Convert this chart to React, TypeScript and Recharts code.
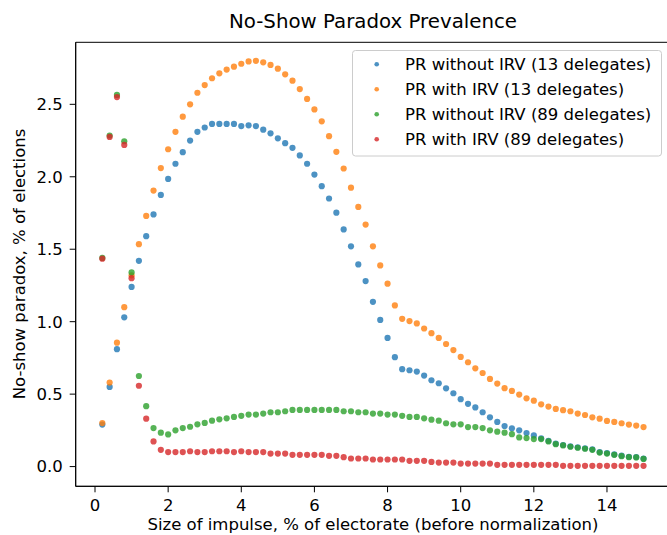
import React from "react";
import { ScatterChart, Scatter, XAxis, YAxis, ReferenceArea } from "recharts";

const xs = [
  0.2, 0.4, 0.6, 0.8, 1.0, 1.2, 1.4, 1.6, 1.8, 2.0, 2.2, 2.4, 2.6, 2.8, 3.0,
  3.2, 3.4, 3.6, 3.8, 4.0, 4.2, 4.4, 4.6, 4.8, 5.0, 5.2, 5.4, 5.6, 5.8, 6.0,
  6.2, 6.4, 6.6, 6.8, 7.0, 7.2, 7.4, 7.6, 7.8, 8.0, 8.2, 8.4, 8.6, 8.8, 9.0,
  9.2, 9.4, 9.6, 9.8, 10.0, 10.2, 10.4, 10.6, 10.8, 11.0, 11.2, 11.4, 11.6, 11.8, 12.0,
  12.2, 12.4, 12.6, 12.8, 13.0, 13.2, 13.4, 13.6, 13.8, 14.0, 14.2, 14.4, 14.6, 14.8, 15.0,
];

const prNoIrv13 = [
  0.29, 0.55, 0.81, 1.03, 1.24, 1.42, 1.59, 1.74, 1.875, 1.985,
  2.09, 2.17, 2.25, 2.31, 2.34, 2.365, 2.365, 2.365, 2.365, 2.35,
  2.355, 2.35, 2.325, 2.3, 2.265, 2.232, 2.2, 2.147, 2.09, 2.015,
  1.935, 1.85, 1.752, 1.637, 1.52, 1.395, 1.28, 1.137, 1.012, 0.888,
  0.755, 0.672, 0.665, 0.656, 0.628, 0.596, 0.575, 0.54, 0.506, 0.465,
  0.433, 0.408, 0.375, 0.34, 0.308, 0.28, 0.264, 0.25, 0.231, 0.215,
  0.195, 0.178, 0.158, 0.149, 0.14, 0.133, 0.126, 0.119, 0.1, 0.093,
  0.084, 0.075, 0.068, 0.066, 0.056,
];

const prIrv13 = [
  0.3, 0.58, 0.855, 1.1, 1.32, 1.535, 1.73, 1.905, 2.06, 2.19,
  2.31, 2.415, 2.5, 2.58, 2.633, 2.68, 2.714, 2.74, 2.76, 2.78,
  2.796, 2.8, 2.79, 2.772, 2.746, 2.707, 2.663, 2.605, 2.537, 2.465,
  2.383, 2.28, 2.172, 2.057, 1.925, 1.792, 1.67, 1.52, 1.388, 1.262,
  1.112, 1.02, 1.004, 0.988, 0.953, 0.921, 0.888, 0.846, 0.804, 0.757,
  0.72, 0.678, 0.646, 0.605, 0.573, 0.541, 0.522, 0.497, 0.471, 0.455,
  0.43, 0.414, 0.398, 0.389, 0.382, 0.366, 0.356, 0.34, 0.331, 0.315,
  0.308, 0.299, 0.29, 0.283, 0.273,
];

const prNoIrv89 = [
  1.44, 2.285, 2.565, 2.245, 1.34, 0.625, 0.417, 0.266, 0.234, 0.222,
  0.25, 0.266, 0.275, 0.292, 0.301, 0.317, 0.326, 0.333, 0.343, 0.35,
  0.359, 0.359, 0.366, 0.375, 0.375, 0.382, 0.391, 0.391, 0.391, 0.391,
  0.391, 0.391, 0.391, 0.382, 0.382, 0.375, 0.375, 0.366, 0.366, 0.359,
  0.359, 0.35, 0.343, 0.343, 0.333, 0.324, 0.317, 0.299, 0.292, 0.292,
  0.273, 0.273, 0.266, 0.25, 0.241, 0.234, 0.224, 0.201, 0.197, 0.19,
  0.19, 0.174, 0.155, 0.146, 0.137, 0.13, 0.123, 0.116, 0.097, 0.09,
  0.081, 0.072, 0.065, 0.063, 0.053,
];

const prIrv89 = [
  1.435, 2.275, 2.55, 2.22, 1.3, 0.558, 0.331, 0.174, 0.116, 0.1,
  0.1, 0.1, 0.106, 0.1, 0.1, 0.106, 0.106, 0.106, 0.1, 0.106,
  0.1, 0.1, 0.1, 0.09, 0.09, 0.09, 0.081, 0.081, 0.081, 0.081,
  0.081, 0.074, 0.074, 0.065, 0.056, 0.056, 0.056, 0.049, 0.049, 0.049,
  0.049, 0.049, 0.04, 0.04, 0.04, 0.032, 0.028, 0.028, 0.028, 0.021,
  0.021, 0.021, 0.021, 0.021, 0.012, 0.012, 0.012, 0.012, 0.012, 0.012,
  0.012, 0.012, 0.012, 0.005, 0.005, 0.005, 0.005, 0.005, 0.005, 0.005,
  0.005, 0.005, 0.005, 0.005, 0.005,
];

const seriesNames = [
  "PR without IRV (13 delegates)",
  "PR with IRV (13 delegates)",
  "PR without IRV (89 delegates)",
  "PR with IRV (89 delegates)",
];
const seriesValues = [prNoIrv13, prIrv13, prNoIrv89, prIrv89];
const seriesColors = ["#1f77b4", "#ff7f0e", "#2ca02c", "#d62728"];

const xTicks = [0, 2, 4, 6, 8, 10, 12, 14];
const yTicks = [0, 0.5, 1.0, 1.5, 2.0, 2.5];

const title = "No-Show Paradox Prevalence";
const xLabel = "Size of impulse, % of electorate (before normalization)";
const yLabel = "No-show paradox, % of elections";

const FONT = "'DejaVu Sans', sans-serif";
const X_DOMAIN = [-0.528, 15.74];
const Y_DOMAIN = [-0.136, 2.928];

const makeShape = (color: string) => (props: any) => (
  <circle cx={props.cx} cy={props.cy} r={3.1} fill={color} fillOpacity={0.8} />
);

export default function App() {
  const datasets = seriesValues.map((vals) => xs.map((x, i) => ({ x, y: vals[i] })));
  return (
    <div style={{ position: "absolute", left: 0, top: 0, width: 667, height: 535, overflow: "hidden", background: "#fff" }}>
      <ScatterChart
        width={700}
        height={535}
        margin={{ top: 42.3, right: 29.4, bottom: 0, left: 0 }}
      >
        <XAxis
          type="number"
          dataKey="x"
          domain={X_DOMAIN}
          allowDataOverflow
          ticks={xTicks}
          height={48.7}
          tickSize={6}
          tickMargin={7}
          stroke="#000"
          tick={{ fill: "#000", fontSize: 16.5, fontFamily: FONT }}
          tickLine={{ stroke: "#000" }}
          axisLine={{ stroke: "#000" }}
          label={{
            content: () => (
              <text x={373} y={530} textAnchor="middle" fontSize={16.5} fontFamily={FONT} fill="#000">
                {xLabel}
              </text>
            ),
          }}
        />
        <YAxis
          type="number"
          dataKey="y"
          domain={Y_DOMAIN}
          allowDataOverflow
          ticks={yTicks}
          width={75.7}
          tickSize={6}
          tickMargin={7}
          tickFormatter={(v: number) => v.toFixed(1)}
          stroke="#000"
          tick={{ fill: "#000", fontSize: 16.5, fontFamily: FONT }}
          tickLine={{ stroke: "#000" }}
          axisLine={{ stroke: "#000" }}
          label={{
            content: () => (
              <g>
                <text
                  x={25}
                  y={264}
                  transform="rotate(-90, 25, 264)"
                  textAnchor="middle"
                  fontSize={16.5}
                  fontFamily={FONT}
                  fill="#000"
                >
                  {yLabel}
                </text>
                <text x={373} y={27.7} textAnchor="middle" fontSize={19.8} fontFamily={FONT} fill="#000">
                  {title}
                </text>
              </g>
            ),
          }}
        />
        <ReferenceArea
          x1={X_DOMAIN[0]}
          x2={X_DOMAIN[1]}
          y1={Y_DOMAIN[0]}
          y2={Y_DOMAIN[1]}
          fill="none"
          fillOpacity={0}
          stroke="#000"
          strokeWidth={1}
          ifOverflow="visible"
        />
        {datasets.map((d, i) => (
          <Scatter
            key={seriesNames[i]}
            name={seriesNames[i]}
            data={d}
            fill={seriesColors[i]}
            shape={makeShape(seriesColors[i])}
            isAnimationActive={false}
          />
        ))}
      </ScatterChart>
      <svg
        width={667}
        height={535}
        style={{ position: "absolute", left: 0, top: 0, pointerEvents: "none" }}
      >
        <rect x={352.5} y={50.5} width={309} height={105.5} rx={3} fill="#fff" fillOpacity={0.8} stroke="#cccccc" />
        {seriesNames.map((name, i) => (
          <g key={name}>
            <circle cx={376.7} cy={64.3 + i * 25} r={2.3} fill={seriesColors[i]} fillOpacity={0.8} />
            <text x={405} y={70 + i * 25} fontSize={16.5} fontFamily={FONT} fill="#000">
              {name}
            </text>
          </g>
        ))}
      </svg>
    </div>
  );
}
